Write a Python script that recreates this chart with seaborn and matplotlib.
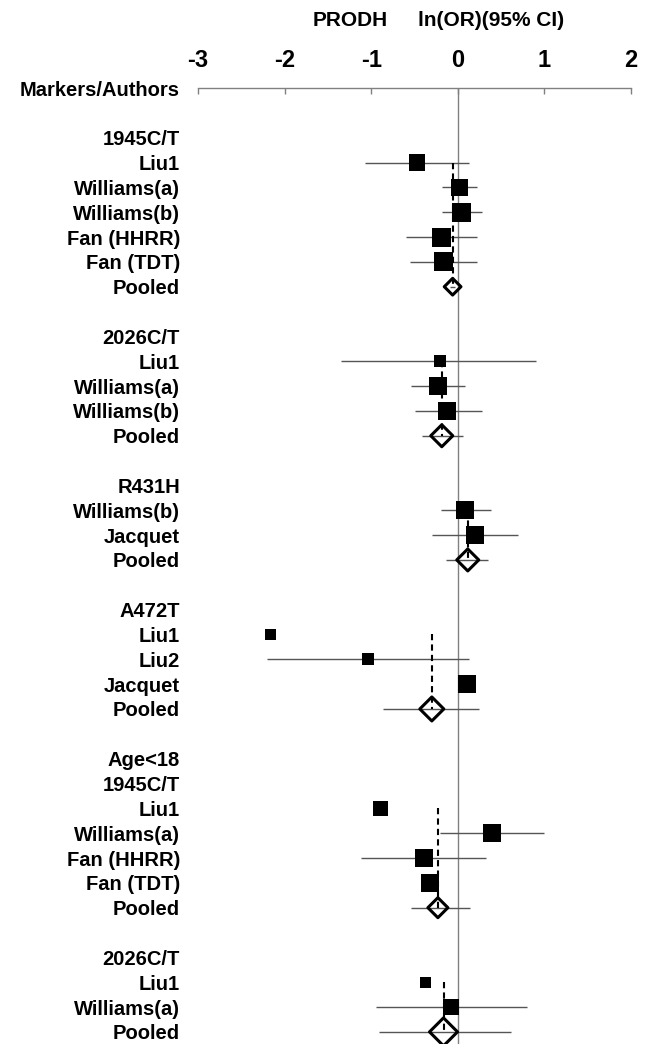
import numpy as np
import pandas as pd
import matplotlib
matplotlib.use("Agg")
import matplotlib.pyplot as plt
import seaborn as sns

nan = np.nan

# row labels, top to bottom ("" = spacer row)
labels = ["1945C/T", "Liu1", "Williams(a)", "Williams(b)", "Fan (HHRR)", "Fan (TDT)", "Pooled", "",
          "2026C/T", "Liu1", "Williams(a)", "Williams(b)", "Pooled", "",
          "R431H", "Williams(b)", "Jacquet", "Pooled", "",
          "A472T", "Liu1", "Liu2", "Jacquet", "Pooled", "",
          "Age<18", "1945C/T", "Liu1", "Williams(a)", "Fan (HHRR)", "Fan (TDT)", "Pooled", "",
          "2026C/T", "Liu1", "Williams(a)", "Pooled"]
kind = ["h", "s", "s", "s", "s", "s", "p", "",
        "h", "s", "s", "s", "p", "",
        "h", "s", "s", "p", "",
        "h", "s", "s", "s", "p", "",
        "h", "h", "s", "s", "s", "s", "p", "",
        "h", "s", "s", "p"]
# ln(OR) and 95% CI (NaN where no CI line is shown)
est = [nan, -0.47, 0.02, 0.04, -0.185, -0.165, -0.06, nan,
       nan, -0.21, -0.23, -0.12, -0.185, nan,
       nan, 0.085, 0.196, 0.115, nan,
       nan, -2.16, -1.04, 0.11, -0.30, nan,
       nan, nan, -0.89, 0.40, -0.39, -0.32, -0.23, nan,
       nan, -0.37, -0.08, -0.165]
lo = [nan, -1.07, -0.185, -0.18, -0.60, -0.55, -0.09, nan,
      nan, -1.35, -0.535, -0.50, -0.415, nan,
      nan, -0.19, -0.30, -0.135, nan,
      nan, nan, -2.20, nan, -0.86, nan,
      nan, nan, nan, -0.21, -1.12, nan, -0.535, nan,
      nan, nan, -0.94, -0.905]
hi = [nan, 0.13, 0.22, 0.28, 0.22, 0.22, -0.03, nan,
      nan, 0.905, 0.08, 0.28, 0.06, nan,
      nan, 0.38, 0.70, 0.35, nan,
      nan, nan, 0.135, nan, 0.25, nan,
      nan, nan, nan, 1.0, 0.32, nan, 0.14, nan,
      nan, nan, 0.80, 0.62]
# relative study weight (box size)
weight = [nan, 16.7, 17.5, 19, 19, 19, 16.7, nan,
          nan, 12, 18, 18, 22, nan,
          nan, 18, 18, 22, nan,
          nan, 11, 12, 18, 24, nan,
          nan, nan, 15, 18, 18, 18, 20, nan,
          nan, 11, 16, 28]

df = pd.DataFrame({"label": labels, "kind": kind, "est": est, "lo": lo, "hi": hi, "w": weight})
df["row"] = np.arange(len(df))

sns.set_style("white")
plt.rcParams["font.family"] = ["Liberation Sans", "DejaVu Sans"]
plt.rcParams["font.weight"] = "bold"
plt.rcParams["text.color"] = "black"
plt.rcParams["xtick.labelcolor"] = "black"
plt.rcParams["ytick.labelcolor"] = "black"

W, H = 657, 1044
fig = plt.figure(figsize=(W / 100, H / 100), dpi=100)
ax = fig.add_axes([198 / W, 0, 433 / W, (H - 88) / H])
ax.set_xlim(-3, 2)
ax.set_ylim((H - 138) / 24.83, -2)

gray = "#808080"
px = 0.72  # points per pixel

ax.axvline(0, color=gray, lw=1, zorder=1)

# confidence intervals
ci = df.dropna(subset=["lo"])
ax.hlines(ci["row"], ci["lo"], ci["hi"], color="#555555", lw=1, zorder=2)

# pooled reference dashed lines
start = None
for i, r in df.iterrows():
    if r["kind"] == "s" and start is None:
        start = r["row"]
    if r["kind"] == "p":
        ax.plot([r["est"], r["est"]], [start, r["row"]], color="black", lw=1.5,
                ls=(0, (3, 2)), zorder=3)
        start = None

studies = df[df["kind"] == "s"]
sns.scatterplot(x=studies["est"], y=studies["row"], marker="s", color="black",
                s=(studies["w"] * px) ** 2, linewidth=0, ax=ax, zorder=4, legend=False)

pooled = df[df["kind"] == "p"]
sns.scatterplot(x=pooled["est"], y=pooled["row"], marker="D", facecolor="none",
                edgecolor="black", s=(pooled["w"] / np.sqrt(2) * px) ** 2, linewidth=2.2,
                ax=ax, zorder=5, legend=False)

# axis styling
for side in ["left", "right", "bottom"]:
    ax.spines[side].set_visible(False)
ax.spines["top"].set_color(gray)
ax.spines["top"].set_linewidth(1)
ax.xaxis.tick_top()
ax.set_xticks([-3, -2, -1, 0, 1, 2])
ax.set_xticklabels(["-3", "-2", "-1", "0", "1", "2"], fontsize=17, fontweight="bold")
ax.tick_params(axis="x", direction="in", length=6 * px, width=1, color=gray, pad=16 * px)

ax.set_yticks([-2] + list(df["row"]))
ax.set_yticklabels(["Markers/Authors"] + list(df["label"]), fontsize=14.5, fontweight="bold")
ax.tick_params(axis="y", length=0, pad=18 * px)
ax.set_xlabel("")
ax.set_ylabel("")

fig.text(313 / W, 1 - 20 / H, "PRODH", fontsize=15, fontweight="bold", ha="left", va="center")
fig.text(418 / W, 1 - 20 / H, "ln(OR)(95% CI)", fontsize=15, fontweight="bold", ha="left", va="center")

fig.savefig("out.png", dpi=100)
